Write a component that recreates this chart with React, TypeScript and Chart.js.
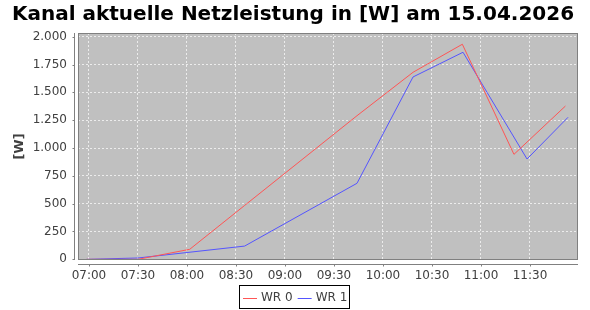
import React, { useEffect, useRef } from 'react';
import { Chart, registerables } from 'chart.js';

Chart.register(...registerables);

const chartTitle = 'Kanal aktuelle Netzleistung in [W] am 15.04.2026';
const yAxisTitle = '[W]';
const seriesNames = ['WR 0', 'WR 1'];
const seriesColors = ['#FF5555', '#5555FF'];

const wr0Times = ['06:58:36', '07:30:00', '08:01:42', '08:35:18', '09:44:06', '10:18:24', '10:48:36', '11:20:12', '11:51:42'];
const wr0Values = [0, 0, 90, 484, 1290, 1680, 1932, 943, 1377];

const wr1Times = ['06:58:36', '07:30:00', '08:35:18', '09:44:06', '10:18:24', '10:49:00', '11:28:12', '11:53:18'];
const wr1Values = [0, 12, 119, 683, 1638, 1860, 901, 1276];

const xTickLabels = ['07:00', '07:30', '08:00', '08:30', '09:00', '09:30', '10:00', '10:30', '11:00', '11:30'];
const yTickValues = [0, 250, 500, 750, 1000, 1250, 1500, 1750, 2000];

const xRange = ['06:53:18', '11:59:24'];
const yRange = [-6, 2033];

function toMinutes(t: string): number {
  const p = t.split(':').map(Number);
  return p[0] * 60 + p[1] + (p[2] || 0) / 60;
}

function fmtThousands(v: number): string {
  const s = String(Math.round(v));
  return s.replace(/\B(?=(\d{3})+(?!\d))/g, '.');
}

const FONT = '"DejaVu Sans", "Liberation Sans", sans-serif';

export default function App() {
  const ref = useRef<HTMLCanvasElement | null>(null);

  useEffect(() => {
    if (!ref.current) return;
    const xTickValues = xTickLabels.map(toMinutes);

    const framePlugin = {
      id: 'frame',
      beforeDraw(chart: any) {
        const { ctx, chartArea: a, width, height } = chart;
        ctx.save();
        ctx.fillStyle = '#ffffff';
        ctx.fillRect(0, 0, width, height);
        ctx.fillStyle = '#C0C0C0';
        ctx.fillRect(a.left, a.top, a.right - a.left, a.bottom - a.top);
        ctx.restore();
      },
      afterDraw(chart: any) {
        const { ctx, chartArea: a } = chart;
        const ys = chart.scales.y;
        const xs = chart.scales.x;
        ctx.save();
        // plot outline
        ctx.strokeStyle = '#808080';
        ctx.lineWidth = 1;
        ctx.strokeRect(a.left + 0.5, a.top + 0.5, a.right - a.left - 1, a.bottom - a.top - 1);
        // y axis line + ticks
        const axX = a.left - 3.5;
        ctx.beginPath();
        ctx.moveTo(axX, a.top);
        ctx.lineTo(axX, a.bottom);
        yTickValues.forEach((v) => {
          const py = Math.round(ys.getPixelForValue(v)) + 0.5;
          ctx.moveTo(axX - 2, py);
          ctx.lineTo(axX, py);
        });
        // x axis line + ticks
        const axY = a.bottom + 4.5;
        ctx.moveTo(a.left, axY);
        ctx.lineTo(a.right, axY);
        xTickValues.forEach((v) => {
          const px = Math.round(xs.getPixelForValue(v)) + 0.5;
          ctx.moveTo(px, axY);
          ctx.lineTo(px, axY + 2);
        });
        ctx.stroke();

        // title
        ctx.fillStyle = '#000000';
        ctx.font = 'bold 20px ' + FONT;
        ctx.textAlign = 'center';
        ctx.textBaseline = 'alphabetic';
        ctx.fillText(chartTitle, 293, 20);

        // y axis title
        ctx.save();
        ctx.translate(19.5, (a.top + a.bottom) / 2);
        ctx.rotate(-Math.PI / 2);
        ctx.fillStyle = '#404040';
        ctx.font = 'bold 13px ' + FONT;
        ctx.textAlign = 'center';
        ctx.textBaseline = 'middle';
        ctx.fillText(yAxisTitle, 0, 0);
        ctx.restore();

        // legend
        ctx.font = '12px ' + FONT;
        ctx.textAlign = 'left';
        ctx.textBaseline = 'middle';
        const boxL = 239.5, boxT = 285.5, boxW = 110, boxH = 23;
        ctx.strokeStyle = '#000000';
        ctx.strokeRect(boxL, boxT, boxW, boxH);
        let cx = 243;
        const cy = 298.5;
        seriesNames.forEach((name, i) => {
          ctx.strokeStyle = seriesColors[i];
          ctx.beginPath();
          ctx.moveTo(cx, cy);
          ctx.lineTo(cx + 14, cy);
          ctx.stroke();
          ctx.fillStyle = '#404040';
          ctx.fillText(name, cx + 18, cy - 0.5);
          cx += 18 + ctx.measureText(name).width + 5;
        });
        ctx.restore();
      },
    };

    const chart = new Chart(ref.current, {
      type: 'line',
      data: {
        datasets: [
          {
            label: seriesNames[0],
            data: wr0Times.map((t, i) => ({ x: toMinutes(t), y: wr0Values[i] })),
            borderColor: seriesColors[0],
            backgroundColor: seriesColors[0],
            borderWidth: 1,
            pointRadius: 0,
            tension: 0,
            fill: false,
          },
          {
            label: seriesNames[1],
            data: wr1Times.map((t, i) => ({ x: toMinutes(t), y: wr1Values[i] })),
            borderColor: seriesColors[1],
            backgroundColor: seriesColors[1],
            borderWidth: 1,
            pointRadius: 0,
            tension: 0,
            fill: false,
          },
        ],
      },
      options: {
        responsive: false,
        animation: false,
        devicePixelRatio: 1,
        layout: { padding: { top: 33, right: 12, left: 0, bottom: 0 } },
        plugins: {
          legend: { display: false },
          title: { display: false },
          tooltip: { enabled: false },
        },
        scales: {
          x: {
            type: 'linear',
            min: toMinutes(xRange[0]),
            max: toMinutes(xRange[1]),
            afterBuildTicks: (s: any) => {
              s.ticks = xTickValues.map((v) => ({ value: v }));
            },
            afterFit: (s: any) => {
              s.height = 50;
            },
            ticks: {
              autoSkip: false,
              maxRotation: 0,
              padding: 9,
              color: '#404040',
              font: { family: FONT, size: 12 },
              callback: (v: any) => {
                const i = xTickValues.indexOf(Number(v));
                return i >= 0 ? xTickLabels[i] : '';
              },
            },
            grid: { color: 'rgba(255,255,255,0.7)', lineWidth: 1, drawTicks: false },
            border: { display: false, dash: [2, 2] },
          },
          y: {
            type: 'linear',
            min: yRange[0],
            max: yRange[1],
            afterBuildTicks: (s: any) => {
              s.ticks = yTickValues.map((v) => ({ value: v }));
            },
            afterFit: (s: any) => {
              s.width = 78;
            },
            ticks: {
              padding: 11,
              color: '#404040',
              font: { family: FONT, size: 12 },
              callback: (v: any) => fmtThousands(Number(v)),
            },
            grid: { color: 'rgba(255,255,255,0.7)', lineWidth: 1, drawTicks: false },
            border: { display: false, dash: [2, 2] },
          },
        },
      },
      plugins: [framePlugin],
    } as any);

    return () => chart.destroy();
  }, []);

  return (
    <div style={{ position: 'fixed', left: 0, top: 0, width: 590, height: 310, background: '#fff' }}>
      <canvas ref={ref} width={590} height={310} style={{ display: 'block', width: 590, height: 310 }} />
    </div>
  );
}
